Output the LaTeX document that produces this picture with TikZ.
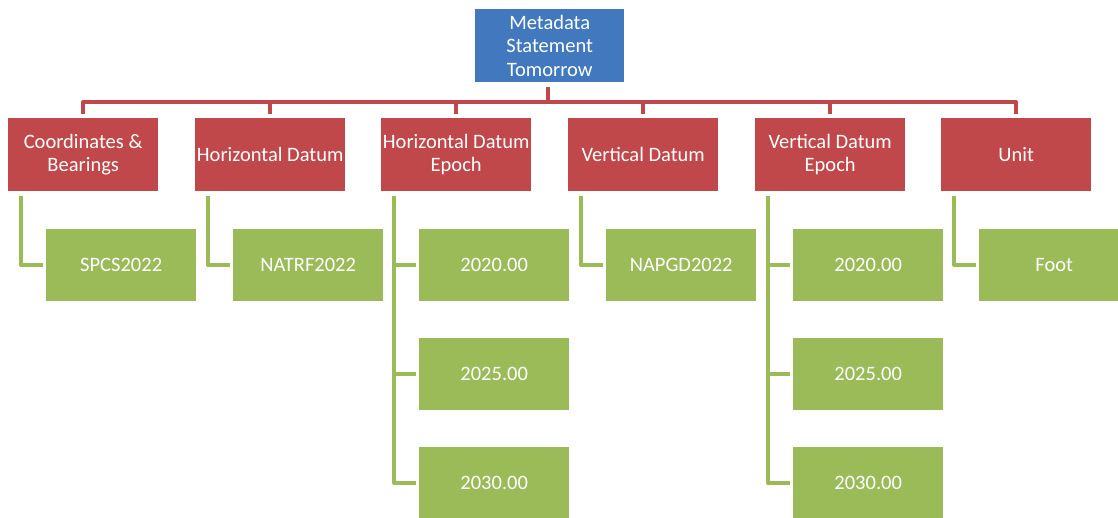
\documentclass[tikz,border=0pt]{standalone}
\usepackage{fontspec}
\setmainfont{Carlito}
\definecolor{topblue}{HTML}{4279BE}
\definecolor{boxred}{HTML}{C0474A}
\definecolor{boxgreen}{HTML}{9BBB59}
\begin{document}
\begin{tikzpicture}[x=1pt,y=-1pt,
  base/.style={anchor=north west, minimum width=150pt, minimum height=73pt, inner sep=0pt,
    text=white, align=center, font=\fontsize{20.5}{23.5}\selectfont},
  bluebox/.style={base, fill=topblue},
  redbox/.style={base, fill=boxred},
  greenbox/.style={base, fill=boxgreen, minimum height=72pt},
  redline/.style={draw=boxred, line width=3.5pt, line join=round},
  greenline/.style={draw=boxgreen, line width=3.5pt, line join=round}]
\useasboundingbox (0,0) rectangle (1118,518);
\clip (0,0) rectangle (1118,518);
\fill[white] (0,0) rectangle (1118,518);
% top
\node[bluebox, minimum width=149pt] (top) at (475,9) {Metadata\\Statement\\Tomorrow};
% red row
\node[redbox] (c1) at (8,118) {Coordinates \&\\Bearings};
\node[redbox] (c2) at (195,118) {Horizontal Datum};
\node[redbox] (c3) at (381,118) {Horizontal Datum\\Epoch};
\node[redbox] (c4) at (568,118) {Vertical Datum};
\node[redbox] (c5) at (755,118) {Vertical Datum\\Epoch};
\node[redbox] (c6) at (941,118) {Unit};
% green
\node[greenbox] (g1) at (46,229) {SPCS2022};
\node[greenbox] (g2) at (233,229) {NATRF2022};
\node[greenbox] (g3a) at (419,229) {2020.00};
\node[greenbox] (g3b) at (419,338) {2025.00};
\node[greenbox] (g3c) at (419,447) {2030.00};
\node[greenbox] (g4) at (606,229) {NAPGD2022};
\node[greenbox] (g5a) at (793,229) {2020.00};
\node[greenbox] (g5b) at (793,338) {2025.00};
\node[greenbox] (g5c) at (793,447) {2030.00};
\node[greenbox] (g6) at (979,229) {Foot};
% red connectors
\coordinate (bus) at (548,102);
\draw[redline] ([yshift=-5pt]top.south -| bus) -- (bus);
\draw[redline] ([yshift=4pt]c1.north) |- (bus) -| ([yshift=4pt]c6.north);
\foreach \c in {c2,c3,c4,c5}
  \draw[redline] ([yshift=4pt]\c.north) -- (\c.north |- bus);
% green connectors
\draw[greenline] ([xshift=13pt,yshift=-5pt]c1.south west) |- ([xshift=-3pt]g1.west);
\draw[greenline] ([xshift=13pt,yshift=-5pt]c2.south west) |- ([xshift=-3pt]g2.west);
\draw[greenline] ([xshift=13pt,yshift=-5pt]c4.south west) |- ([xshift=-3pt]g4.west);
\draw[greenline] ([xshift=13pt,yshift=-5pt]c6.south west) |- ([xshift=-3pt]g6.west);
\foreach \g in {g3a,g3b,g3c}
  \draw[greenline] ([xshift=13pt,yshift=-5pt]c3.south west) |- ([xshift=-3pt]\g.west);
\foreach \g in {g5a,g5b,g5c}
  \draw[greenline] ([xshift=13pt,yshift=-5pt]c5.south west) |- ([xshift=-3pt]\g.west);
\end{tikzpicture}
\end{document}
